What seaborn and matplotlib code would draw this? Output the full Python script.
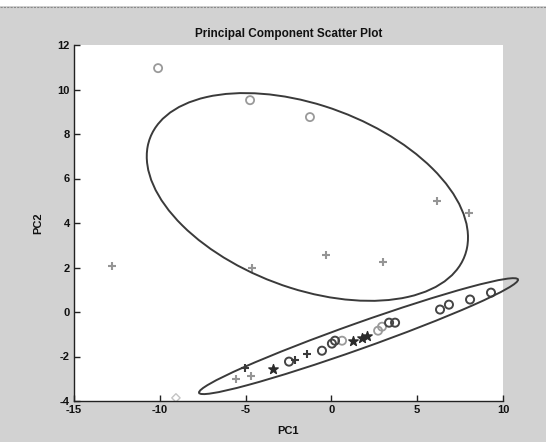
import numpy as np
import pandas as pd
import matplotlib
matplotlib.use("Agg")
import matplotlib.pyplot as plt
from matplotlib.patches import Ellipse, Rectangle
from matplotlib.lines import Line2D
import seaborn as sns

# Principal component scores, grouped by marker type
circle_light_pc1 = [-10.1, -4.74, -1.25, 0.62, 2.72, 2.95]
circle_light_pc2 = [10.96, 9.52, 8.76, -1.29, -0.84, -0.66]

circle_dark_pc1 = [-2.47, -0.55, 0.03, 0.21, 3.36, 3.71, 6.33, 6.85, 8.08, 9.3]
circle_dark_pc2 = [-2.23, -1.74, -1.42, -1.29, -0.48, -0.48, 0.11, 0.33, 0.56, 0.87]

plus_pc1 = [-12.79, -4.63, -0.31, 3.0, 6.15, 8.02, -5.56, -4.69]
plus_pc2 = [2.05, 2.0, 2.54, 2.23, 4.97, 4.43, -3.0, -2.86]

plus_dark_pc1 = [-5.03, -1.42, -2.12]
plus_dark_pc2 = [-2.5, -1.87, -2.14]

star_pc1 = [-3.4, 1.26, 1.78, 2.07]
star_pc2 = [-2.55, -1.29, -1.15, -1.06]

diamond_pc1 = [-9.06]
diamond_pc2 = [-3.86]

# Confidence ellipses: centre, full width, full height, rotation (deg)
upper_ellipse = dict(center=(-1.40, 5.17), width=19.16, height=8.40, angle=-13.7)
lower_ellipse = dict(center=(1.58, -1.085), width=19.27, height=1.18, angle=15.3)

x_ticks = [-15, -10, -5, 0, 5, 10]
y_ticks = [-4, -2, 0, 2, 4, 6, 8, 10, 12]

sns.set_theme(style="white")
plt.rcParams["font.family"] = ["Liberation Sans", "DejaVu Sans"]
plt.rcParams["font.weight"] = "bold"

fig = plt.figure(figsize=(5.46, 4.42), dpi=100, facecolor="#d2d2d2")
ax = fig.add_axes([74 / 546, 1 - 401 / 442, (503 - 74) / 546, (401 - 45) / 442])
ax.set_facecolor("white")

# thin white strip and rule across the top edge
fig.patches.append(Rectangle((0, 1 - 6 / 442), 1, 6 / 442, transform=fig.transFigure,
                             facecolor="white", edgecolor="none", zorder=0))
fig.lines.append(Line2D([0, 1], [1 - 7 / 442, 1 - 7 / 442], transform=fig.transFigure,
                        color="#8a8a8a", lw=0.8, ls=(0, (2, 1))))

def frame(xs, ys):
    return pd.DataFrame({"PC1": xs, "PC2": ys})

sns.scatterplot(data=frame(circle_light_pc1, circle_light_pc2), x="PC1", y="PC2", ax=ax,
                marker="o", s=34, facecolor="none", edgecolor="#9a9a9a", linewidth=1.3)
sns.scatterplot(data=frame(circle_dark_pc1, circle_dark_pc2), x="PC1", y="PC2", ax=ax,
                marker="o", s=34, facecolor="none", edgecolor="#454545", linewidth=1.4)
sns.scatterplot(data=frame(plus_pc1, plus_pc2), x="PC1", y="PC2", ax=ax,
                marker="+", s=30, color="#959595", linewidth=1.5)
sns.scatterplot(data=frame(plus_dark_pc1, plus_dark_pc2), x="PC1", y="PC2", ax=ax,
                marker="+", s=30, color="#3a3a3a", linewidth=1.5)
sns.scatterplot(data=frame(star_pc1, star_pc2), x="PC1", y="PC2", ax=ax,
                marker="*", s=50, color="#2a2a2a", edgecolor="#2a2a2a", linewidth=1.0)
sns.scatterplot(data=frame(diamond_pc1, diamond_pc2), x="PC1", y="PC2", ax=ax,
                marker="D", s=18, facecolor="none", edgecolor="#c4c4c4", linewidth=1.0)

for spec in (upper_ellipse, lower_ellipse):
    ax.add_patch(Ellipse(spec["center"], spec["width"], spec["height"], angle=spec["angle"],
                         fill=False, edgecolor="#3a3a3a", linewidth=1.4, clip_on=False))

ax.set_xlim(-15, 10)
ax.set_ylim(-4, 12)
ax.set_xticks(x_ticks)
ax.set_yticks(y_ticks)
ax.set_xticklabels([str(v) for v in x_ticks], fontsize=8, fontweight="bold")
ax.set_yticklabels([str(v) for v in y_ticks], fontsize=8, fontweight="bold")
ax.tick_params(axis="both", direction="in", length=4, width=1, color="#222222",
               left=True, bottom=True, pad=3, labelcolor="#111111")

for side in ("top", "right"):
    ax.spines[side].set_visible(False)
for side in ("left", "bottom"):
    ax.spines[side].set_color("#222222")
    ax.spines[side].set_linewidth(1.0)

ax.set_xlabel("PC1", fontsize=8, fontweight="bold", labelpad=8, color="#111111")
ax.set_ylabel("PC2", fontsize=8, fontweight="bold", labelpad=10, color="#111111")
ax.set_title("Principal Component Scatter Plot", fontsize=8.5, fontweight="bold",
             pad=6, color="#111111")

fig.savefig("out.png", dpi=100, facecolor=fig.get_facecolor())
